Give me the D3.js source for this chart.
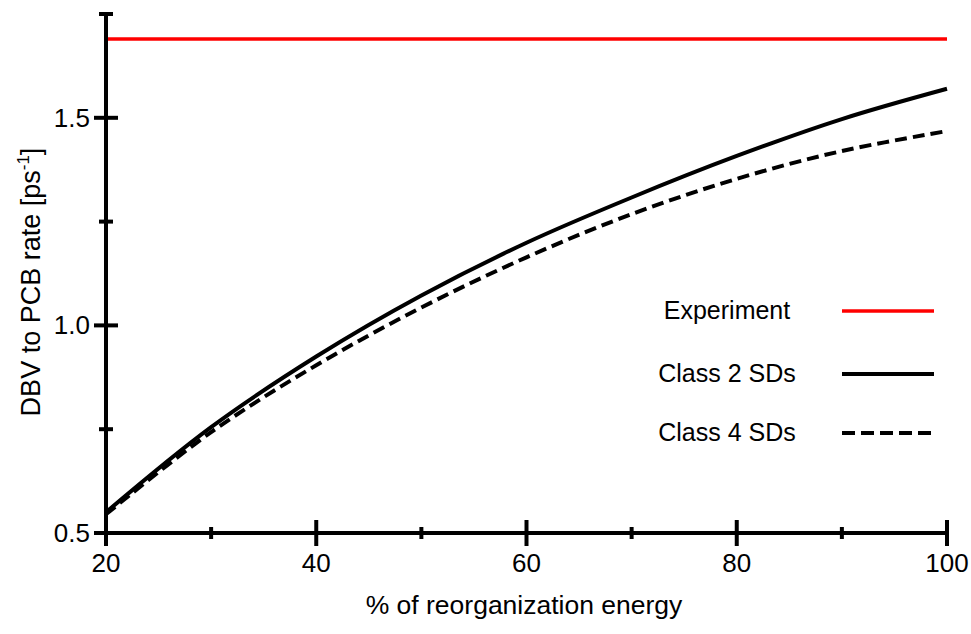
<!DOCTYPE html>
<html><head><meta charset="utf-8">
<script src="https://cdn.jsdelivr.net/npm/d3@7"></script>
<style>body{margin:0;background:#fff}text{font-family:"Liberation Sans",Arial,sans-serif}</style>
</head><body><svg id="c" width="971" height="634"></svg>
<script>
const xValues = [20, 30, 40, 50, 60, 70, 80, 90, 100];
const class2 = [0.55, 0.755, 0.925, 1.072, 1.199, 1.308, 1.408, 1.497, 1.57];
const class4 = [0.545, 0.743, 0.904, 1.043, 1.164, 1.268, 1.353, 1.42, 1.468];
const experiment = 1.69;
const xMajor = [20, 40, 60, 80, 100];
const xMinor = [30, 50, 70, 90];
const yMajor = [0.5, 1.0, 1.5];
const yMinor = [0.75, 1.25, 1.75];
const legendLabels = ["Experiment", "Class 2 SDs", "Class 4 SDs"];

const svg = d3.select("#c");
const x = d3.scaleLinear().domain([20, 100]).range([106, 947]);
const y = d3.scaleLinear().domain([0.5, 1.75]).range([533, 14]);

// axes
const ax = svg.append("g").attr("stroke", "#000").attr("stroke-width", 4);
ax.append("line").attr("x1", x(20)).attr("x2", x(100)).attr("y1", y(0.5)).attr("y2", y(0.5));
ax.append("line").attr("x1", x(20)).attr("x2", x(20)).attr("y1", y(0.5)).attr("y2", y(1.75));
xMajor.forEach(v => ax.append("line").attr("x1", x(v)).attr("x2", x(v)).attr("y1", y(0.5) - 13).attr("y2", y(0.5) + 13));
xMinor.forEach(v => ax.append("line").attr("x1", x(v)).attr("x2", x(v)).attr("y1", y(0.5) - 6).attr("y2", y(0.5) + 6));
yMajor.forEach(v => ax.append("line").attr("x1", x(20) - 12).attr("x2", x(20) + 12).attr("y1", y(v)).attr("y2", y(v)));
yMinor.forEach(v => ax.append("line").attr("x1", x(20) - 7).attr("x2", x(20) + 7).attr("y1", y(v)).attr("y2", y(v)));

const fmt = d3.format(".1f");
xMajor.forEach(v => svg.append("text").attr("x", x(v)).attr("y", 572).attr("text-anchor", "middle").attr("font-size", 26).text(v));
yMajor.forEach(v => svg.append("text").attr("x", 90).attr("y", y(v) + 9).attr("text-anchor", "end").attr("font-size", 26).text(fmt(v)));

svg.append("text").attr("x", 524).attr("y", 614).attr("text-anchor", "middle").attr("font-size", 26.5).text("% of reorganization energy");
const yl = svg.append("text").attr("transform", "translate(40,282) rotate(-90)").attr("text-anchor", "middle").attr("font-size", 27);
yl.append("tspan").text("DBV to PCB rate [ps");
yl.append("tspan").attr("font-size", 17).attr("dy", -11).text("-1");
yl.append("tspan").attr("dy", 11).text("]");

// lines
svg.append("line").attr("x1", x(20) + 2).attr("x2", x(100)).attr("y1", y(experiment)).attr("y2", y(experiment))
  .attr("stroke", "#ff0000").attr("stroke-width", 3.5);
const line = d3.line().x((d, i) => x(xValues[i])).y(d => y(d)).curve(d3.curveCatmullRom);
svg.append("path").datum(class4).attr("d", line).attr("fill", "none").attr("stroke", "#000").attr("stroke-width", 4).attr("stroke-dasharray", "12,6");
svg.append("path").datum(class2).attr("d", line).attr("fill", "none").attr("stroke", "#000").attr("stroke-width", 4);

// legend
const ly = [311, 374, 433];
const styles = [{c: "#ff0000", w: 3.5, d: null}, {c: "#000", w: 4, d: null}, {c: "#000", w: 4, d: "13,6"}];
legendLabels.forEach((t, i) => {
  svg.append("text").attr("x", 727).attr("y", ly[i] + 8).attr("text-anchor", "middle").attr("font-size", 25).text(t);
  svg.append("line").attr("x1", 842).attr("x2", 934).attr("y1", ly[i]).attr("y2", ly[i])
    .attr("stroke", styles[i].c).attr("stroke-width", styles[i].w).attr("stroke-dasharray", styles[i].d);
});
</script></body></html>
